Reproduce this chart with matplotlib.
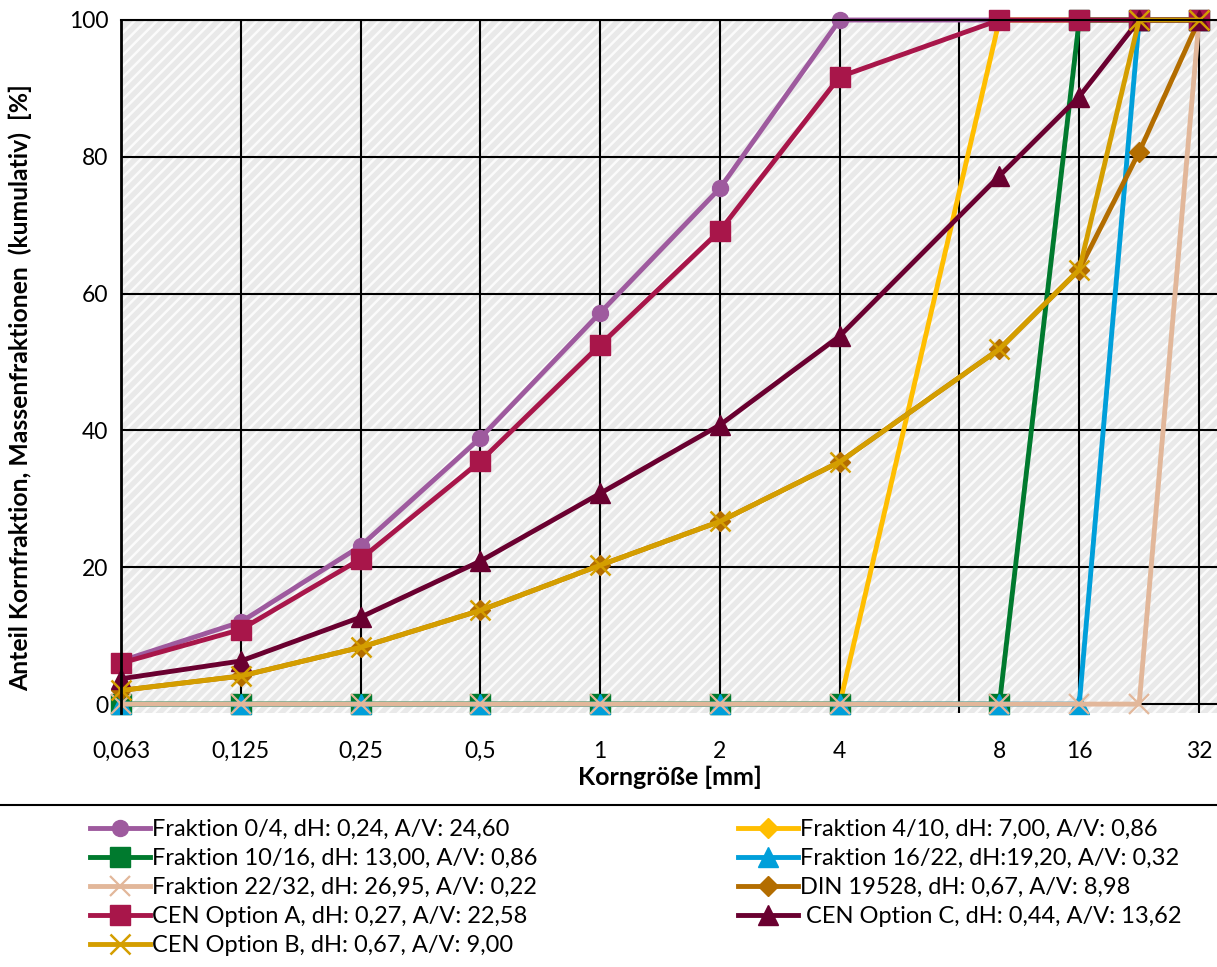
import matplotlib
matplotlib.use("Agg")
import matplotlib.pyplot as plt
import numpy as np
from matplotlib.lines import Line2D

# ------------------------------------------------------------------ #
#   Sieve line data: cumulative passing [%] per sieve size [mm]       #
# ------------------------------------------------------------------ #
sieve_mm = [0.063, 0.125, 0.25, 0.5, 1, 2, 4, 8, 16, 22.4, 32]

frac_0_4   = [6.3, 12.0, 23.1, 38.9, 57.2, 75.4, 100, 100, 100, 100, 100]
frac_4_10  = [0, 0, 0, 0, 0, 0, 0, 100, 100, 100, 100]
frac_10_16 = [0, 0, 0, 0, 0, 0, 0, 0, 100, 100, 100]
frac_16_22 = [0, 0, 0, 0, 0, 0, 0, 0, 0, 100, 100]
frac_22_32 = [0, 0, 0, 0, 0, 0, 0, 0, 0, 0, 100]
din_19528  = [2.0, 4.1, 8.3, 13.7, 20.3, 26.7, 35.4, 51.9, 63.5, 80.7, 100]
cen_a      = [6.0, 10.9, 21.2, 35.5, 52.5, 69.2, 91.7, 100, 100, 100, 100]
cen_c      = [3.7, 6.3, 12.7, 20.9, 30.8, 40.8, 53.8, 77.2, 88.8, 100, 100]
cen_b      = [2.0, 4.1, 8.3, 13.7, 20.3, 26.7, 35.4, 51.9, 63.5, 100, 100]

names = ['Fraktion 0/4, dH: 0,24, A/V: 24,60',
         'Fraktion 4/10, dH: 7,00, A/V: 0,86',
         'Fraktion 10/16, dH: 13,00, A/V: 0,86',
         'Fraktion 16/22, dH:19,20, A/V: 0,32',
         'Fraktion 22/32, dH: 26,95, A/V: 0,22',
         'DIN 19528, dH: 0,67, A/V: 8,98',
         'CEN Option A, dH: 0,27, A/V: 22,58',
         ' CEN Option C, dH: 0,44, A/V: 13,62',
         'CEN Option B, dH: 0,67, A/V: 9,00']

tick_mm     = [0.063, 0.125, 0.25, 0.5, 1, 2, 4, 8, 16, 32]
tick_labels = ['0,063', '0,125', '0,25', '0,5', '1', '2', '4', '8', '16', '32']

# style per series: colour, marker, marker size, marker edge width
styles = [('#9E5A9E', 'o', 11.5, 1.0),
          ('#FFBE00', 'D', 10.0, 1.0),
          ('#007A2E', 's', 14.0, 1.0),
          ('#009FDA', '^', 14.5, 1.0),
          ('#E2B79A', 'x', 14.0, 1.6),
          ('#B36D00', 'D', 10.5, 1.0),
          ('#A8164A', 's', 14.0, 1.0),
          ('#6A0030', '^', 14.5, 1.0),
          ('#D49E00', 'x', 14.0, 1.8)]

series = [frac_0_4, frac_4_10, frac_10_16, frac_16_22, frac_22_32,
          din_19528, cen_a, cen_c, cen_b]

# x axis: stretched sieve scale (log2 between anchors)
anchor_mm  = [0.063, 0.125, 0.25, 0.5, 1, 2, 4, 8, 16, 22.4, 32, 64]
anchor_pos = [0, 1, 2, 3, 4, 5, 6, 7 + 1/3, 8, 8.5, 9, 10.5]

def fwd(x):
    x = np.clip(np.asarray(x, dtype=float), 1e-6, None)
    return np.interp(np.log2(x), np.log2(anchor_mm), anchor_pos)

def inv(p):
    return 2 ** np.interp(np.asarray(p, dtype=float), anchor_pos, np.log2(anchor_mm))

# ------------------------------------------------------------------ #
#   Figure                                                            #
# ------------------------------------------------------------------ #
plt.rcParams['font.family'] = ['Lato', 'DejaVu Sans']
plt.rcParams['hatch.linewidth'] = 1.8

W, H = 1217, 967
fig = plt.figure(figsize=(W / 100, H / 100), dpi=100)
ax = fig.add_axes([121 / W, 1 - 713 / H, (W - 121) / W, 693 / H])

# hatched plot area
ax.patch.set_facecolor('#e9e9e9')
ax.patch.set_edgecolor('#fbfbfb')
ax.patch.set_hatch('///')
ax.patch.set_linewidth(0)

ax.set_xscale('function', functions=(fwd, inv))
ax.set_xlim(0.063, inv(9.15))
ax.set_ylim(-1.3, 100)

lines = []
for vals, name, (col, mk, ms, mew) in zip(series, names, styles):
    ln, = ax.plot(sieve_mm, vals, color=col, lw=3.5, marker=mk, markersize=ms,
                  markerfacecolor=col, markeredgecolor=col, markeredgewidth=mew,
                  label=name, clip_on=False, solid_joinstyle='round')
    lines.append(ln)

# ticks and grid (grid lines sit on whole scale steps, labels on sieve sizes)
ax.xaxis.remove_overlapping_locs = False
ax.set_xticks(tick_mm, labels=tick_labels)
ax.set_xticks(inv(np.arange(10)), minor=True)
ax.set_yticks(np.arange(0, 101, 20))
ax.xaxis.grid(True, which='minor', color='black', lw=1.5)
ax.yaxis.grid(True, which='major', color='black', lw=1.5)
ax.set_axisbelow(True)
ax.tick_params(axis='both', which='both', length=0, labelsize=16.5)
ax.tick_params(axis='x', pad=20)
ax.tick_params(axis='y', pad=9)

for s in ['right', 'bottom']:
    ax.spines[s].set_visible(False)
ax.spines['left'].set_linewidth(2.0)
ax.spines['top'].set_linewidth(1.5)

# axis titles
fig.text(20 / W, 1 - 388 / H, 'Anteil Kornfraktion, Massenfraktionen  (kumulativ)  [%]',
         rotation=90, ha='center', va='center', fontsize=17.8, fontweight='bold')
fig.text(670 / W, 1 - 777 / H, 'Korngröße [mm]', ha='center', va='center',
         fontsize=18, fontweight='bold')

# separator above the legend
fig.add_artist(Line2D([0, 1], [1 - 805 / H, 1 - 805 / H], transform=fig.transFigure,
                      color='black', lw=1.5))

# legend in two columns
fs = 17
hl = 60 / (fs * 100 / 72)
left_idx = [0, 2, 4, 6, 8]
right_idx = [1, 3, 5, 7]
leg_kw = dict(loc='upper left', frameon=False, fontsize=fs, borderpad=0,
              borderaxespad=0, handlelength=hl, handletextpad=0.08,
              labelspacing=0.34, numpoints=1)
leg1 = fig.legend([lines[i] for i in left_idx], [names[i] for i in left_idx],
                  bbox_to_anchor=(90 / W, 1 - 819 / H), **leg_kw)
leg2 = fig.legend([lines[i] for i in right_idx], [names[i] for i in right_idx],
                  bbox_to_anchor=(738 / W, 1 - 819 / H), **leg_kw)

fig.savefig('out.png', dpi=100)
